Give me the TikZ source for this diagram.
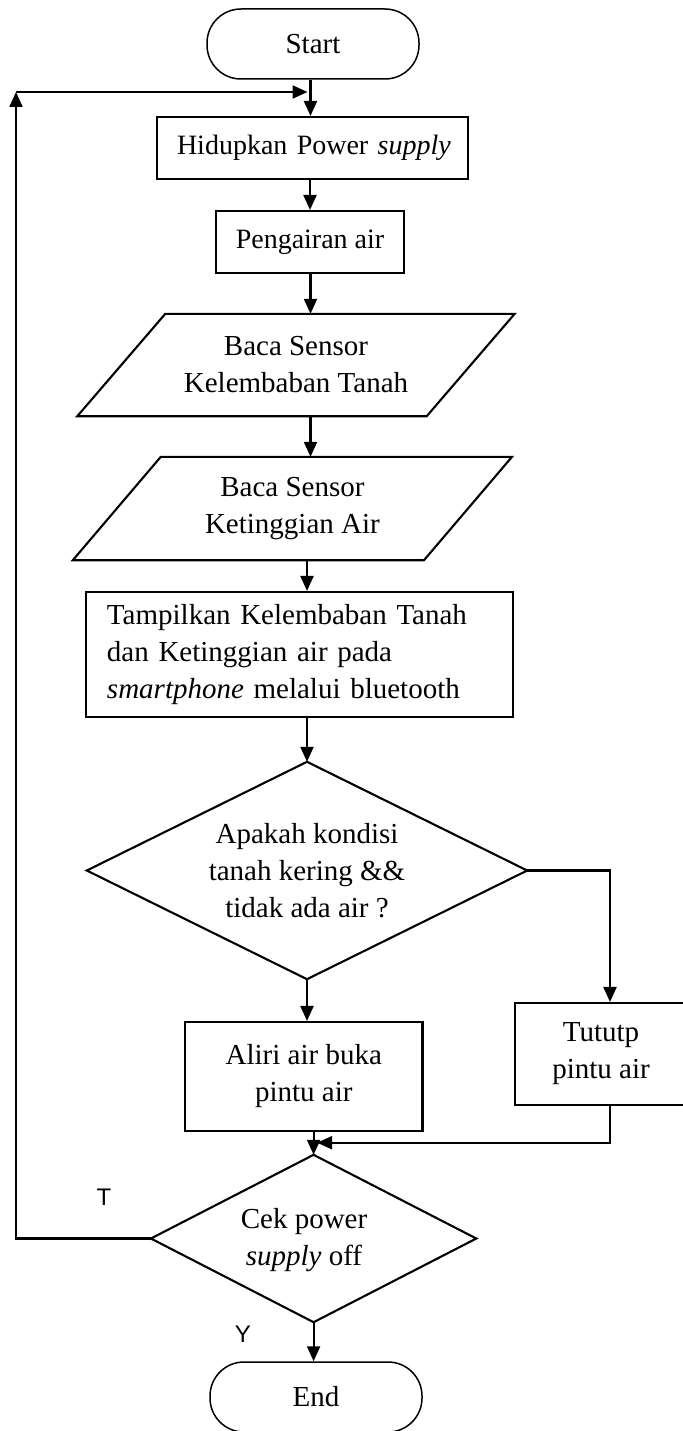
\documentclass[tikz,border=0pt]{standalone}
\usepackage{fontspec}
\setmainfont{Liberation Serif}
\newfontfamily\lsans{Liberation Sans}
\usetikzlibrary{arrows.meta,calc}
\begin{document}
\begin{tikzpicture}[x=1bp,y=-1bp,
  big/.style={font=\fontsize{29bp}{37bp}\selectfont},
  mid/.style={font=\fontsize{28bp}{34bp}\selectfont},
  boxline/.style={draw, line width=2.1bp},
  procbox/.style={boxline, rectangle, inner sep=0pt, align=center},
  term/.style={draw, line width=1.5bp, rectangle, rounded corners=34bp, minimum width=212bp, minimum height=70bp, inner sep=0pt},
  ghost/.style={rectangle, inner sep=0pt, align=center},
  conn/.style={line width=2.2bp},
  arr/.style={conn, -{Triangle[length=15bp,width=13bp]}},
  lbl/.style={font=\lsans\fontsize{24bp}{28bp}\selectfont}
]
\useasboundingbox (0,0) rectangle (683,1431);

% nodes
\node[term, big] (start) at (313,44) {Start};
\node[procbox, mid, minimum width=311bp, minimum height=62bp, text width=271bp, inner xsep=20bp, align=left] (pow) at (312.5,148) {\mbox{Hidupkan Power \textit{supply}}};
\node[procbox, mid, minimum width=188bp, minimum height=62bp] (png) at (310,242) {Pengairan air};
\node[ghost, big, minimum width=349bp, minimum height=102bp] (p1) at (296,365) {Baca Sensor\\Kelembaban Tanah};
\node[ghost, big, minimum width=350.8bp, minimum height=103bp] (p2) at (292.4,508.5) {Baca Sensor\\Ketinggian Air};
\node[procbox, big, minimum width=426.6bp, minimum height=125bp, text width=384.6bp, inner xsep=21bp, align=left] (show) at (299.3,654.5) {Tampilkan Kelembaban Tanah\\dan Ketinggian air pada\\\textit{smartphone} melalui bluetooth};
\node[ghost, big, minimum width=440bp, minimum height=217bp] (d1) at (307,870.5) {Apakah kondisi\\tanah kering \&\&\\tidak ada air ?};
\node[procbox, big, minimum width=237.5bp, minimum height=109bp] (ali) at (303.75,1076.5) {Aliri air buka\\pintu air};
\node[procbox, big, minimum width=172bp, minimum height=102bp] (tut) at (601,1054) {Tututp\\pintu air};
\node[ghost, big, minimum width=325bp, minimum height=167bp] (d2) at (313.6,1238.5) {};
\node[big, align=center] (d2t) at (304,1240) {Cek power\\\textit{supply} off};
\node[term, big] (end) at (316,1397) {End};
\node[lbl] (lt) at (104,1197) {T};
\node[lbl] (ly) at (243,1334) {Y};

% shapes drawn directly
\draw[boxline] ($(p1.north west)+(44,0)$) -- ($(p1.north east)+(44,0)$) -- ($(p1.south east)+(-44,0)$) -- ($(p1.south west)+(-44,0)$) -- cycle;
\draw[boxline] ($(p2.north west)+(44,0)$) -- ($(p2.north east)+(44,0)$) -- ($(p2.south east)+(-44,0)$) -- ($(p2.south west)+(-44,0)$) -- cycle;
\draw[boxline] (d1.north) -- (d1.east) -- (d1.south) -- (d1.west) -- cycle;
\draw[boxline] (d2.north) -- (d2.east) -- (d2.south) -- (d2.west) -- cycle;

% connectors
\coordinate (tc) at (16,92);
\coordinate (j) at (313.6,1142.7);
\draw[arr] (start.south -| 310.5,0) -- (pow.north -| 310.5,0);
\draw[arr] (png.north |- pow.south) -- (png.north);
\draw[arr] (png.south -| 310.5,0) -- (p1.north -| 310.5,0);
\draw[arr] (p1.south -| 310.5,0) -- (p2.north -| 310.5,0);
\draw[arr] (p2.south -| d1.north) -- (show.north -| d1.north);
\draw[arr] (show.south -| d1.north) -- (d1.north);
\draw[arr] (d1.south) -- (d1.south |- ali.north);
\draw[arr] (d1.east) -| ([xshift=9bp]tut.north);
\draw[arr] ([xshift=9bp]tut.south) |- ([xshift=3.5bp]j);
\draw[arr] (ali.south -| d2.north) -- (d2.north);
\draw[arr] (d2.south) -- (d2.south |- end.north);
\draw[arr] (d2.west) -| (tc);
\draw[arr, shorten >=3bp] (tc) -- (tc -| 310.5,0);
\end{tikzpicture}
\end{document}
